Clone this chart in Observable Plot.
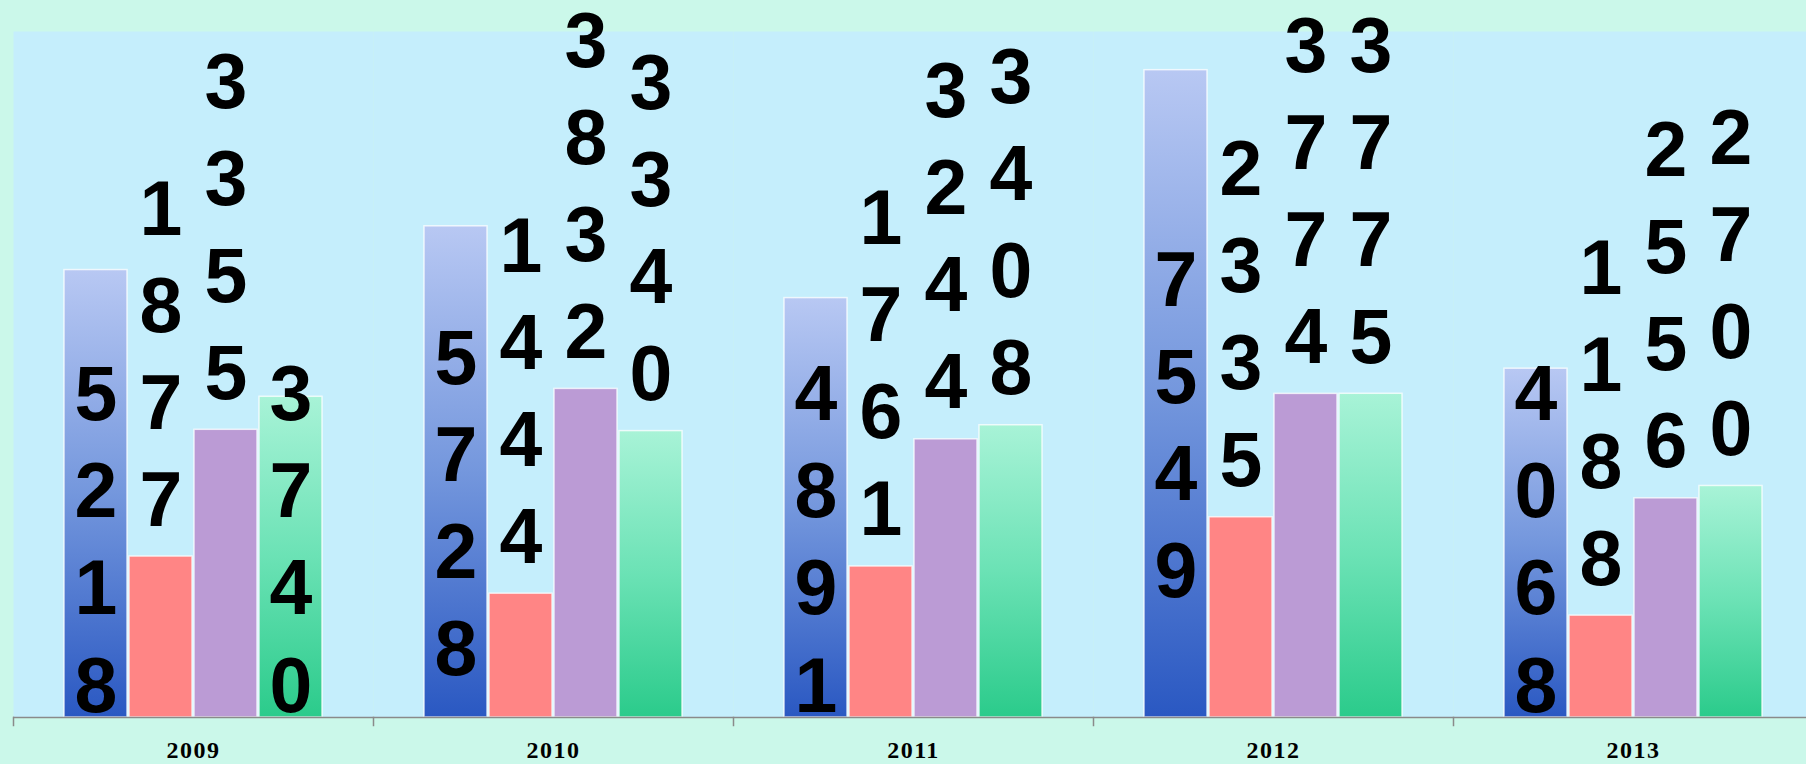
<!DOCTYPE html>
<html>
<head>
<meta charset="utf-8">
<script src="https://cdn.jsdelivr.net/npm/d3@7"></script>
<script src="https://cdn.jsdelivr.net/npm/@observablehq/plot@0.6"></script>
<style>
  html, body { margin: 0; padding: 0; background: #CBF8EA; }
  #chart svg { display: block; }
  #chart g[aria-label="fx-axis tick label"] text { letter-spacing: 1.5px; }
</style>
</head>
<body>
<div id="chart"></div>
<script>
const years = ["2009", "2010", "2011", "2012", "2013"];
const seriesNames = ["Series 1", "Series 2", "Series 3", "Series 4"];
const series1 = [5218, 5728, 4891, 7549, 4068];
const series2 = [1877, 1444, 1761, 2335, 1188];
const series3 = [3355, 3832, 3244, 3774, 2556];
const series4 = [3740, 3340, 3408, 3775, 2700];
// data-label position per year (series 1..4), as in the spreadsheet:
// "base" = inside base, "center" = centered in bar, "out" = outside end
const placement2009 = ["base", "out", "out", "base"];
const placement2010 = ["center", "out", "out", "out"];
const placement2011 = ["base", "out", "out", "out"];
const placement2012 = ["center", "out", "out", "out"];
const placement2013 = ["base", "out", "out", "out"];

const allSeries = [series1, series2, series3, series4];
const placements = [placement2009, placement2010, placement2011, placement2012, placement2013];
const fills = ["url(#gBlue)", "#FF8585", "#BB9BD5", "url(#gGreen)"];

const rows = [];
years.forEach((year, i) => {
  seriesNames.forEach((s, j) => {
    rows.push({year, series: s, value: allSeries[j][i], place: placements[i][j]});
  });
});

const stacked = d => String(d.value).split("").join("\n");
const labelFont = {fontSize: 77, fontWeight: "bold", fontFamily: "'Liberation Sans', Arial, sans-serif", lineHeight: 1.26, fill: "#000"};

const svg = Plot.plot({
  width: 1806,
  height: 764,
  marginTop: 31,
  marginBottom: 47,
  marginLeft: 12,
  marginRight: -8,
  style: {background: "#CBF8EA", overflow: "visible"},
  fx: {domain: years, padding: 0, label: null},
  x: {domain: seriesNames, paddingInner: 0, paddingOuter: 0.74, axis: null},
  y: {domain: [0, 8000], axis: null},
  marks: [
    Plot.frame({fill: "#C5EEFC"}),
    ...seriesNames.map((s, j) => Plot.barY(rows.filter(d => d.series === s), {
      fx: "year", x: "series", y: "value",
      fill: fills[j], insetLeft: 1, insetRight: 1,
      stroke: "#ffffff", strokeWidth: 1.5, strokeOpacity: 0.75
    })),
    Plot.ruleY([0], {stroke: "#8A8A8A", strokeWidth: 1.5}),
    Plot.frame({anchor: "left", stroke: "#8A8A8A", strokeWidth: 1.5, insetTop: 686, insetBottom: -8}),
    Plot.text(rows.filter(d => d.place === "out"), {
      fx: "year", x: "series", y: "value", text: stacked,
      lineAnchor: "bottom", dy: -31, ...labelFont
    }),
    Plot.text(rows.filter(d => d.place === "center"), {
      fx: "year", x: "series", y: d => d.value / 2, text: stacked,
      lineAnchor: "middle", dy: 27, ...labelFont
    }),
    Plot.text(rows.filter(d => d.place === "base"), {
      fx: "year", x: "series", y: () => 0, text: stacked,
      lineAnchor: "bottom", dy: -6, ...labelFont
    }),
    Plot.axisFx({anchor: "bottom", tickSize: 0, tickPadding: 23, fontSize: 24, fontWeight: "bold",
      fontFamily: "'Liberation Serif', 'DejaVu Serif', serif", fill: "#000", label: null})
  ]
});

const ns = "http://www.w3.org/2000/svg";
const defs = document.createElementNS(ns, "defs");
defs.innerHTML = `
  <linearGradient id="gBlue" x1="0" y1="0" x2="0" y2="1">
    <stop offset="0" stop-color="#B8C8F3"/>
    <stop offset="0.5" stop-color="#7497DD"/>
    <stop offset="1" stop-color="#2A58C2"/>
  </linearGradient>
  <linearGradient id="gGreen" x1="0" y1="0" x2="0" y2="1">
    <stop offset="0" stop-color="#A8F3D7"/>
    <stop offset="0.5" stop-color="#6BE2B5"/>
    <stop offset="1" stop-color="#2BCB8B"/>
  </linearGradient>`;
svg.insertBefore(defs, svg.firstChild);
document.getElementById("chart").appendChild(svg);
</script>
</body>
</html>
